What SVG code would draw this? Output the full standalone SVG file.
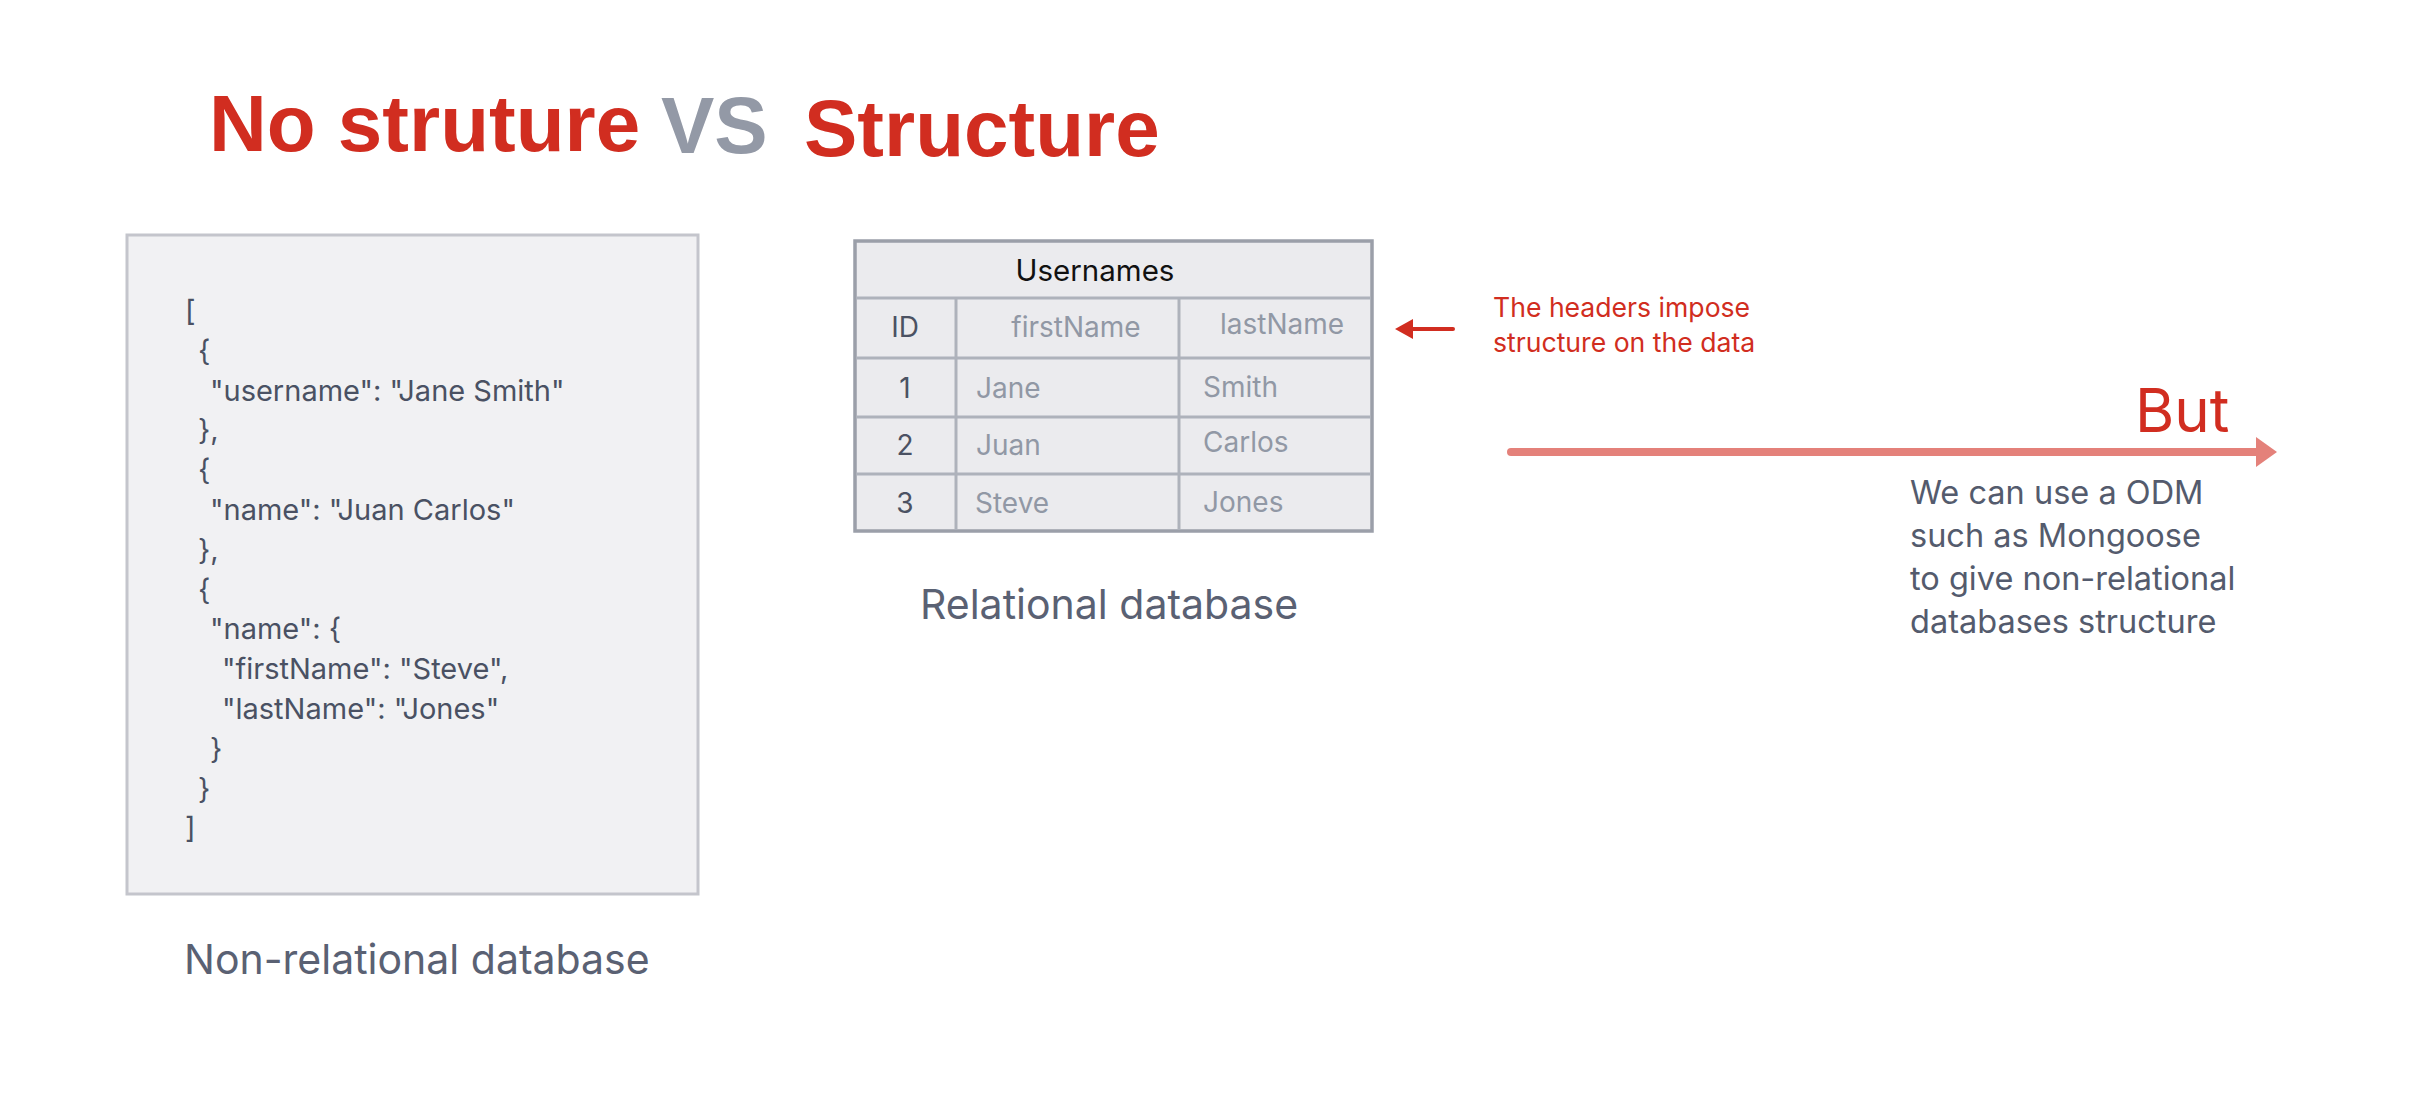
<svg xmlns="http://www.w3.org/2000/svg" width="2422" height="1116" viewBox="0 0 2422 1116">
  <defs>
    <style>
      .title { font-family: "Liberation Sans", Arial, sans-serif; font-weight: bold; font-size: 80px; }
      .red { fill: #d12d20; }
      .vs { fill: #9399a6; }
      .ui { font-family: Inter, "Noto Sans", sans-serif; }
      .json { font-size: 29px; fill: #4a5163; }
      .label { font-size: 41px; fill: #5a6173; }
      .thead { font-size: 28px; fill: #9198a5; }
      .tcell { font-size: 28px; fill: #9198a5; }
      .tid { font-size: 28px; fill: #4b5263; }
      .note { font-size: 26.6px; fill: #d12d20; }
      .odm { font-size: 32.5px; fill: #545b6d; }
    </style>
  </defs>

  <rect width="2422" height="1116" fill="#ffffff"/>

  <g id="title">
    <text class="title red" x="209" y="151">No struture</text>
    <text class="title vs" x="661" y="153">VS</text>
    <text class="title red" x="804" y="156" font-size="81">Structure</text>
  </g>

  <g id="non-relational-db">
    <rect x="127" y="235" width="571" height="659" fill="#f1f1f3" stroke="#c4c5cc" stroke-width="3"/>
    <g class="ui json" xml:space="preserve">
      <text x="185" y="321">[</text>
      <text x="198" y="361">{</text>
      <text x="210" y="401">"username": "Jane Smith"</text>
      <text x="198" y="440">},</text>
      <text x="198" y="480">{</text>
      <text x="210" y="520">"name": "Juan Carlos"</text>
      <text x="198" y="560">},</text>
      <text x="198" y="600">{</text>
      <text x="210" y="639">"name": {</text>
      <text x="222" y="679">"firstName": "Steve",</text>
      <text x="222" y="719">"lastName": "Jones"</text>
      <text x="210" y="759">}</text>
      <text x="198" y="799">}</text>
      <text x="185" y="838">]</text>
    </g>
    <text class="ui label" x="184" y="974">Non-relational database</text>
  </g>

  <g id="relational-db">
    <rect x="855" y="241" width="517" height="290" fill="#ebebee" stroke="#9b9fa9" stroke-width="3.5"/>
    <g stroke="#aeb2bb" stroke-width="3">
      <line x1="856" y1="298" x2="1371" y2="298"/>
      <line x1="856" y1="358" x2="1371" y2="358"/>
      <line x1="856" y1="417" x2="1371" y2="417"/>
      <line x1="856" y1="474" x2="1371" y2="474"/>
      <line x1="956" y1="298" x2="956" y2="530"/>
      <line x1="1179" y1="298" x2="1179" y2="530"/>
    </g>
    <text class="ui" x="1095" y="281" font-size="29.5" fill="#111111" text-anchor="middle">Usernames</text>
    <text class="ui tid" x="905" y="337" text-anchor="middle">ID</text>
    <text class="ui thead" x="1076" y="337" text-anchor="middle">firstName</text>
    <text class="ui thead" x="1282" y="334" text-anchor="middle">lastName</text>
    <text class="ui tid" x="905" y="398" text-anchor="middle">1</text>
    <text class="ui tid" x="905" y="455" text-anchor="middle">2</text>
    <text class="ui tid" x="905" y="513" text-anchor="middle">3</text>
    <text class="ui tcell" x="976" y="398">Jane</text>
    <text class="ui tcell" x="976" y="455">Juan</text>
    <text class="ui tcell" x="975" y="513">Steve</text>
    <text class="ui tcell" x="1203" y="397">Smith</text>
    <text class="ui tcell" x="1203" y="452">Carlos</text>
    <text class="ui tcell" x="1203" y="512">Jones</text>
    <text class="ui label" x="920" y="619">Relational database</text>
  </g>

  <g id="headers-note">
    <text class="ui note" x="1493" y="317">The headers impose</text>
    <text class="ui note" x="1493" y="352">structure on the data</text>
  </g>

  <g id="but-note">
    <text class="ui" x="2135" y="432" font-size="60" fill="#d12d20">But</text>
    <g class="ui odm">
      <text x="1910" y="504">We can use a ODM</text>
      <text x="1910" y="547">such as Mongoose</text>
      <text x="1910" y="590">to give non-relational</text>
      <text x="1910" y="633">databases structure</text>
    </g>
  </g>

  <g id="connectors">
    <line x1="1453" y1="329" x2="1412" y2="329" stroke="#d12d20" stroke-width="4" stroke-linecap="round"/>
    <path d="M1395,329 L1413,319 L1413,339 z" fill="#d12d20"/>
    <line x1="1511" y1="452" x2="2258" y2="452" stroke="#e4817a" stroke-width="8" stroke-linecap="round"/>
    <path d="M2277,452 L2256,437 L2256,467 z" fill="#e4817a"/>
  </g>
</svg>
